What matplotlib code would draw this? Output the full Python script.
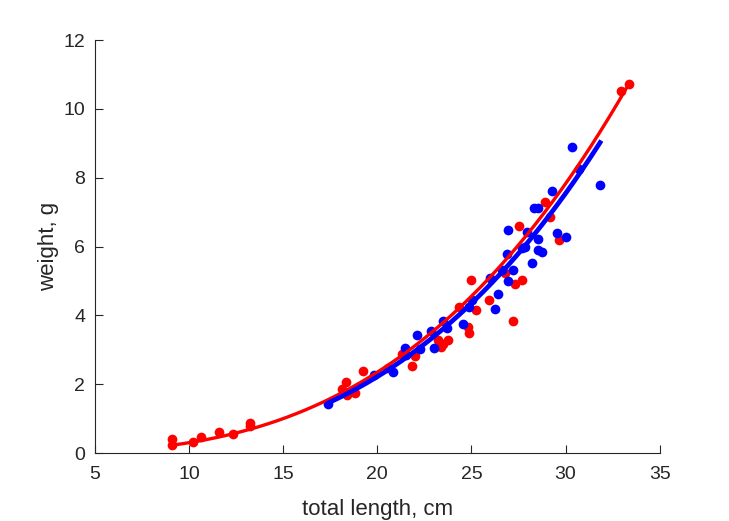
import numpy as np
import matplotlib
matplotlib.use('Agg')
import matplotlib.pyplot as plt

plt.rcParams['font.family'] = ['Liberation Sans', 'DejaVu Sans']

# red sample: total length (cm), weight (g)
red_len = [9.10, 9.10, 10.24, 10.65, 11.62, 12.34, 13.25, 13.25, 18.35, 18.12,
           18.39, 18.83, 19.22, 20.59, 21.31, 21.84, 22.01, 23.25, 23.51, 23.78,
           23.39, 24.33, 24.84, 24.89, 25.25, 24.98, 25.96, 26.79, 27.21, 27.32,
           27.69, 27.55, 28.91, 29.15, 29.64, 32.93, 33.37]
red_wt = [0.40, 0.23, 0.33, 0.46, 0.60, 0.55, 0.88, 0.78, 2.05, 1.85,
          1.70, 1.73, 2.39, 2.46, 2.88, 2.54, 2.83, 3.27, 3.16, 3.27,
          3.09, 4.24, 3.67, 3.48, 4.15, 5.04, 4.46, 5.22, 3.85, 4.91,
          5.04, 6.59, 7.29, 6.85, 6.20, 10.52, 10.71]

# blue sample
blue_len = [17.38, 19.84, 20.83, 21.48, 21.54, 22.10, 22.28, 22.85, 23.03, 23.50,
            23.69, 24.54, 24.85, 25.04, 25.97, 26.23, 26.43, 26.61, 26.92, 26.89,
            27.23, 26.96, 27.67, 27.85, 27.94, 28.24, 28.30, 28.56, 28.53, 28.56,
            28.74, 29.27, 29.53, 30.03, 30.33, 30.73, 31.83]
blue_wt = [1.43, 2.26, 2.36, 3.05, 2.84, 3.43, 3.01, 3.54, 3.04, 3.83,
           3.64, 3.74, 4.24, 4.46, 5.08, 4.18, 4.61, 5.31, 5.00, 5.79,
           5.31, 6.49, 5.96, 5.98, 6.41, 5.52, 7.13, 7.13, 6.21, 5.91,
           5.84, 7.61, 6.38, 6.28, 8.89, 8.26, 7.78]

# power-law fits  W = a * L^b
red_a, red_b = 3.21e-4, 2.97
blue_a, blue_b = 2.61e-4, 3.02

fig = plt.figure(figsize=(7.29, 5.21), dpi=100)
ax = fig.add_axes([0.13, 0.1305, 0.775, 0.7927])

ax.plot(red_len, red_wt, 'o', color='r', markersize=7, markeredgewidth=0)
ax.plot(blue_len, blue_wt, 'o', color='b', markersize=7, markeredgewidth=0)

L = np.linspace(min(red_len), max(red_len), 200)
ax.plot(L, red_a * L**red_b, '-', color='r', linewidth=2.4)
L = np.linspace(min(blue_len), max(blue_len), 200)
ax.plot(L, blue_a * L**blue_b, '-', color='b', linewidth=3.4)

ax.set_xlim(5, 35)
ax.set_ylim(0, 12)
ax.set_xticks(range(5, 36, 5))
ax.set_yticks(range(0, 13, 2))

ax.spines['top'].set_visible(False)
ax.spines['right'].set_visible(False)
for s in ['left', 'bottom']:
    ax.spines[s].set_color('#262626')
    ax.spines[s].set_linewidth(0.8)
ax.tick_params(direction='in', length=5.5, width=0.8, colors='#262626',
               labelsize=14)
ax.tick_params(axis='x', pad=9)
ax.tick_params(axis='y', pad=7)

ax.set_xlabel('total length, cm', fontsize=16, color='#262626', labelpad=12)
ax.set_ylabel('weight, g', fontsize=16, color='#262626', labelpad=3)

fig.savefig('out.png', dpi=100)
